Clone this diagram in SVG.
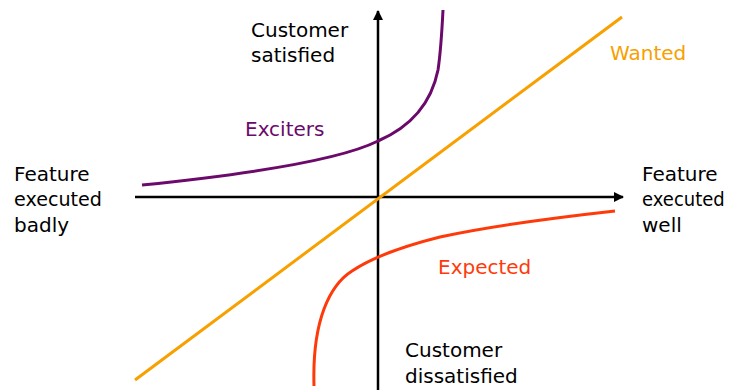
<svg xmlns="http://www.w3.org/2000/svg" width="732" height="390" viewBox="0 0 732 390">
<style>
text{font-family:"DejaVu Sans","Open Sans",sans-serif;font-size:20px;fill:#000}
.ax{stroke:#000;stroke-width:2.5;fill:none}
.c{fill:none;stroke-width:3}
</style>
<defs>
<marker id="ah" viewBox="0 0 10 10" refX="9" refY="5" markerWidth="4" markerHeight="4" orient="auto"><path d="M0,0L10,5L0,10z" fill="#000"/></marker>
</defs>
<rect width="732" height="390" fill="#fff"/>
<g id="connectors">
<line class="ax" x1="378" y1="390" x2="378" y2="11" marker-end="url(#ah)"/>
<line class="ax" x1="135" y1="197" x2="623" y2="197" marker-end="url(#ah)"/>
<line x1="135" y1="380" x2="622" y2="17" stroke="#f7a000" stroke-width="3"/>
<path class="c" stroke="#6b0a6b" d="M142,185 C250,174 340,160 378,141 C415,125 432,100 438,70 C441,50 442,30 443,10"/>
<path class="c" stroke="#ff3a0a" d="M314,386 C312,320 330,285 352,271 C370,259 400,247 440,237 C500,224 570,216 615,211"/>
</g>
<g id="top-label"><text x="251" y="37">Customer</text><text x="251" y="62">satisfied</text></g>
<g id="bottom-label"><text x="405" y="357">Customer</text><text x="405" y="383">dissatisfied</text></g>
<g id="left-label"><text x="14" y="181">Feature</text><text x="14" y="206" textLength="88" lengthAdjust="spacingAndGlyphs">executed</text><text x="14" y="232">badly</text></g>
<g id="right-label"><text x="642" y="181">Feature</text><text transform="translate(642,206) scale(0.9,1)">executed</text><text x="642" y="232">well</text></g>
<g id="wanted"><text x="610" y="60" style="fill:#f7a000">Wanted</text></g>
<g id="exciters"><text x="245" y="136" style="fill:#6b0a6b">Exciters</text></g>
<g id="expected"><text x="438" y="274" style="fill:#ff3a0a">Expected</text></g>
</svg>
